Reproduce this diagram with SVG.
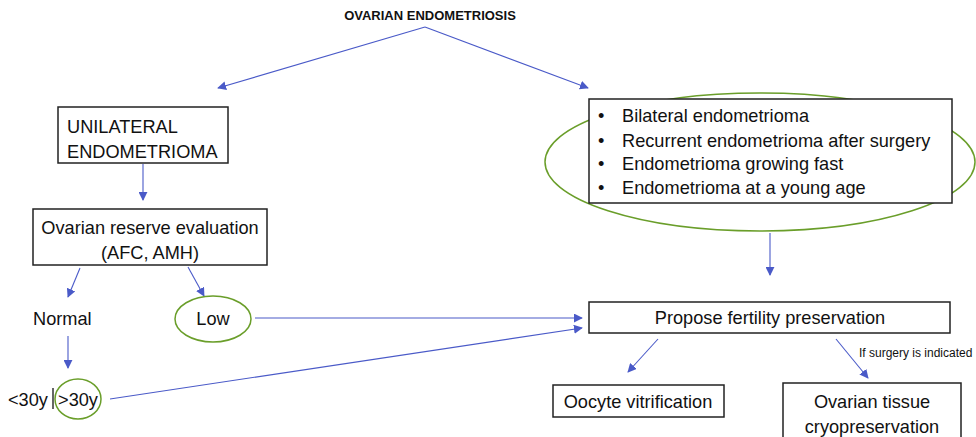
<svg xmlns="http://www.w3.org/2000/svg" width="976" height="437" viewBox="0 0 976 437">
<style>
text{font-family:"Liberation Sans",Arial,sans-serif;fill:#111;}
.t{font-size:18.2px;}
.box{fill:#fff;stroke:#222;stroke-width:1.5;}
.ell{fill:none;stroke:#6a9e2a;stroke-width:1.5;}
.c{fill:none;stroke:#4a5ac8;stroke-width:1.1;marker-end:url(#ah);}
</style>
<defs>
<marker id="ah" viewBox="0 0 10 10" refX="9" refY="5" markerWidth="9" markerHeight="9" markerUnits="userSpaceOnUse" orient="auto">
<path d="M0,0 L10,5 L0,10 z" fill="#4a5ac8"/>
</marker>
</defs>
<g id="connectors">
<path class="c" d="M425,27 L218,88"/>
<path class="c" d="M425,27 L588,88"/>
<path class="c" d="M143,164 L143,200"/>
<path class="c" d="M80,268 L68,297"/>
<path class="c" d="M188,267 L204,296"/>
<path class="c" d="M68,336 L68,368"/>
<path class="c" d="M255,318 L582,318"/>
<path class="c" d="M110,399 L582,328"/>
<path class="c" d="M770,233 L770,275"/>
<path class="c" d="M658,339 L628,372"/>
<path class="c" d="M836,339 L868,378"/>
</g>
<g id="title"><text x="430" y="20" text-anchor="middle" font-size="13" font-weight="bold">OVARIAN ENDOMETRIOSIS</text></g>
<g id="unilateral">
<rect class="box" x="58" y="107" width="170" height="56"/>
<text class="t" x="67" y="133">UNILATERAL</text>
<text class="t" x="67" y="158">ENDOMETRIOMA</text>
</g>
<g id="reserve">
<rect class="box" x="33" y="209" width="234" height="56"/>
<text class="t" x="150" y="234" text-anchor="middle">Ovarian reserve evaluation</text>
<text class="t" x="150" y="259" text-anchor="middle">(AFC, AMH)</text>
</g>
<g id="normal"><text class="t" x="33" y="325">Normal</text></g>
<g id="low">
<ellipse class="ell" cx="213" cy="319" rx="38" ry="23"/>
<text class="t" x="213" y="325" text-anchor="middle">Low</text>
</g>
<g id="age">
<text class="t" x="8" y="406">&lt;30y</text>
<line x1="53" y1="388" x2="53" y2="409" stroke="#333" stroke-width="1.5"/>
<ellipse class="ell" cx="78" cy="399" rx="23" ry="20"/>
<text class="t" x="78" y="406" text-anchor="middle">&gt;30y</text>
</g>
<g id="criteria">
<ellipse class="ell" cx="760" cy="162" rx="215" ry="69"/>
<rect class="box" x="589" y="99" width="363" height="104"/>
<text class="t" x="598" y="122">•</text><text class="t" x="622" y="122">Bilateral endometrioma</text>
<text class="t" x="598" y="147">•</text><text class="t" x="622" y="147">Recurrent endometrioma after surgery</text>
<text class="t" x="598" y="170">•</text><text class="t" x="622" y="170">Endometrioma growing fast</text>
<text class="t" x="598" y="194">•</text><text class="t" x="622" y="194">Endometrioma at a young age</text>
</g>
<g id="propose">
<rect class="box" x="589" y="302" width="361" height="31"/>
<text class="t" x="770" y="324" text-anchor="middle">Propose fertility preservation</text>
</g>
<g id="label"><text x="859" y="357" font-size="12">If surgery is indicated</text></g>
<g id="oocyte">
<rect class="box" x="553" y="385" width="171" height="32"/>
<text class="t" x="638" y="408" text-anchor="middle">Oocyte vitrification</text>
</g>
<g id="tissue">
<rect class="box" x="783" y="383" width="178" height="60"/>
<text class="t" x="872" y="408" text-anchor="middle">Ovarian tissue</text>
<text class="t" x="872" y="433" text-anchor="middle">cryopreservation</text>
</g>
</svg>
